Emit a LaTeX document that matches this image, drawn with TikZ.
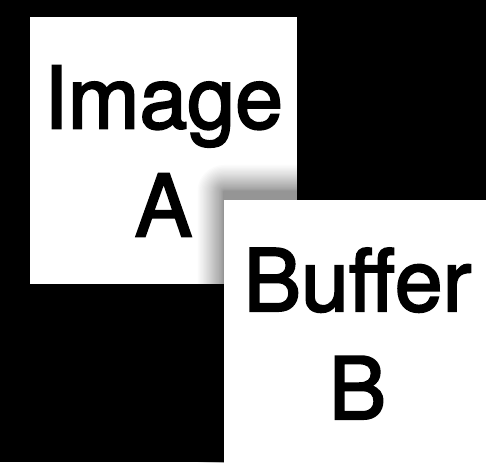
\documentclass[tikz,border=0pt]{standalone}
\usepackage{fontspec}
\newfontfamily\cardfont[FakeBold=2.4]{TeX Gyre Heros}
\tikzset{
  card/.style={fill=white, draw=none, minimum width=267pt, minimum height=267pt,
    inner sep=0pt, align=center, font=\cardfont\fontsize{86}{108}\selectfont},
  shadowlayer/.style={fill=black, fill opacity=0.0145, draw=none}
}
\begin{document}
\begin{tikzpicture}[x=1pt,y=1pt]
\fill[black] (0,0) rectangle (486,462);
\useasboundingbox (0,0) rectangle (486,462);
\clip (0,0) rectangle (486,462);
\node[card] (a) at (163.5,311) {Image\\A};
\coordinate (bc) at (357.5,128.5);
\foreach \i in {1,...,30} {
  \pgfmathsetmacro{\d}{0.5+26*(\i/30)^1.5}
  \fill[shadowlayer, rounded corners=\d pt]
    ([xshift=-133.5pt-\d pt, yshift=-133.5pt-\d pt]bc) rectangle
    ([xshift=133.5pt+\d pt, yshift=142pt+\d pt]bc);
}
\node[card] (b) at (bc) {Buffer\\B};
\end{tikzpicture}
\end{document}
